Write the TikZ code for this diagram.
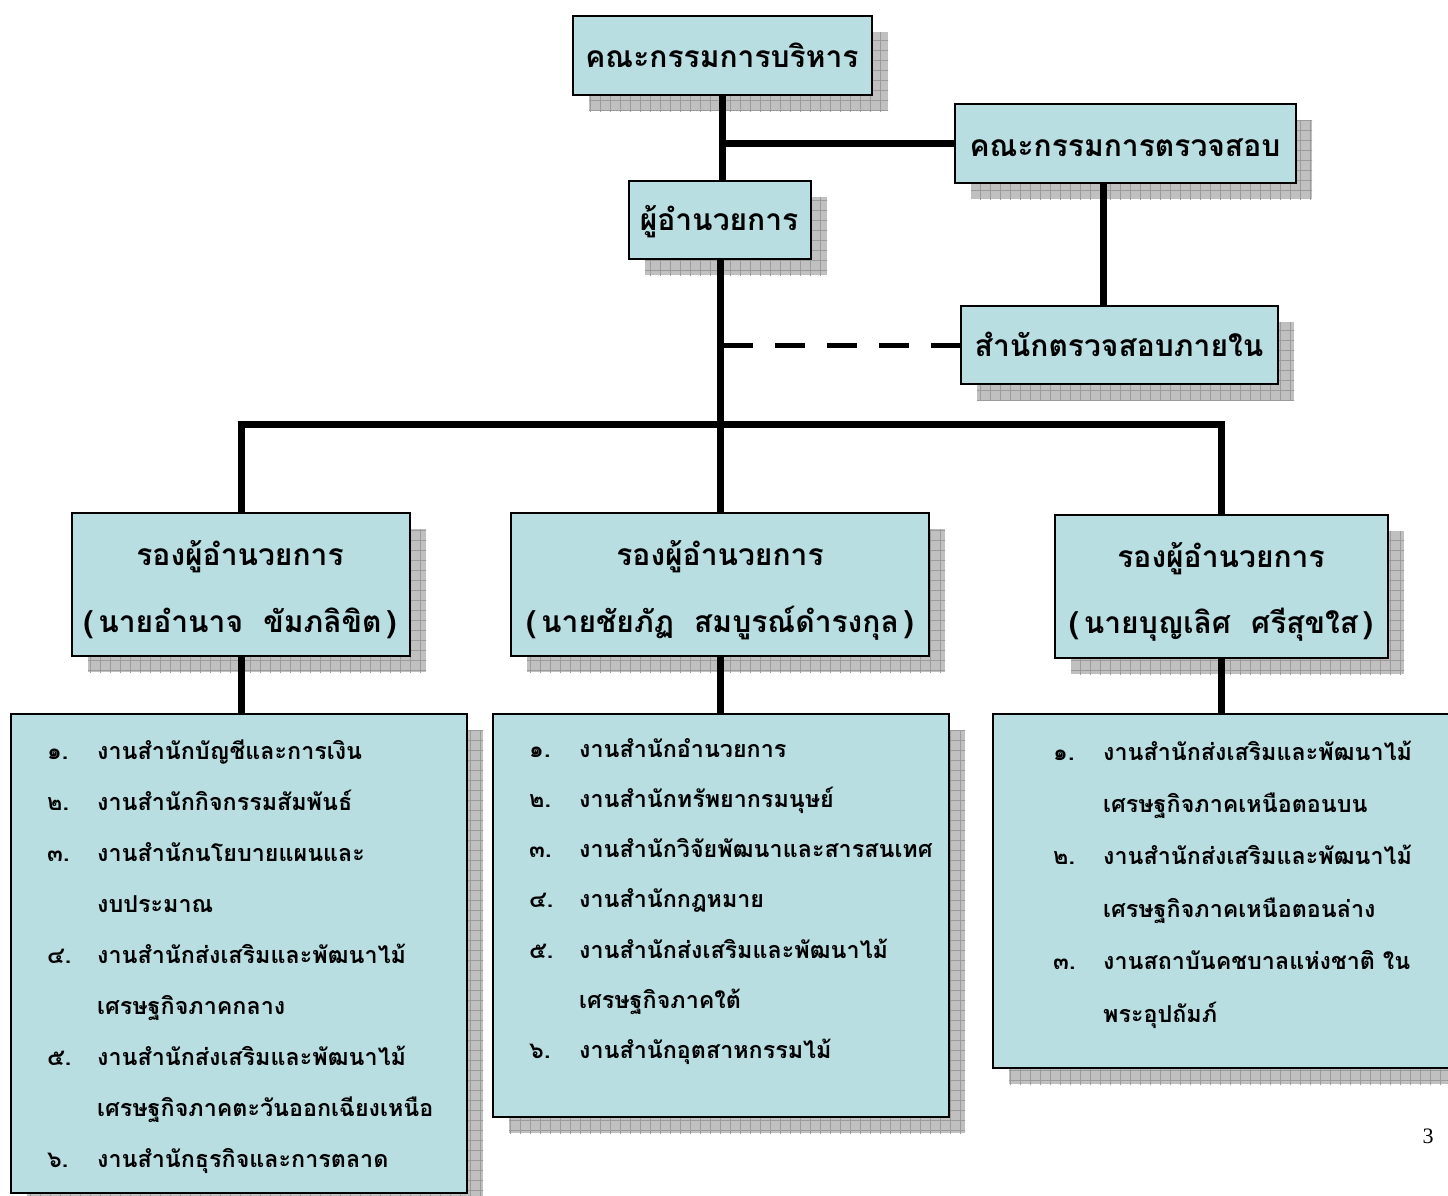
\documentclass[tikz,border=0pt]{standalone}
\usepackage{fontspec}
\setmainfont{Liberation Serif}
\newfontfamily\thaifont[Script=Thai]{Loma}
\usetikzlibrary{calc}

\pgfdeclarelayer{shadowlayer}
\pgfdeclarelayer{linelayer}
\pgfsetlayers{shadowlayer,linelayer,main}

\definecolor{boxfill}{RGB}{185,222,226}
\definecolor{shadefill}{RGB}{192,192,192}
\definecolor{shadegrid}{RGB}{155,155,155}

\tikzset{
  orgbox/.style={draw=black, line width=2pt, fill=boxfill, inner sep=0pt,
                 outer sep=0pt, anchor=north west},
  link/.style={line width=7pt, line cap=butt},
  dashlink/.style={line width=5pt, dash pattern=on 30pt off 22pt},
  heading/.style={font=\thaifont\bfseries\fontsize{30}{36}\selectfont,
                  anchor=base, inner sep=0pt},
  item/.style={font=\thaifont\bfseries\fontsize{23.3}{28}\selectfont,
               anchor=base west, inner sep=0pt},
}

% hatched drop shadow behind a box
\newcommand\orgshadow[1]{%
  \begin{pgfonlayer}{shadowlayer}
    \begin{scope}
      \clip ($(#1.north west)+(16,16)$) rectangle ($(#1.south east)+(16,16)$);
      \fill[shadefill] ($(#1.north west)+(16,16)$) rectangle ($(#1.south east)+(16,16)$);
      \draw[shadegrid, line width=0.9pt, step=10pt]
        ($(#1.north west)+(0,0)$) grid ($(#1.south east)+(30,30)$);
    \end{scope}
  \end{pgfonlayer}}
\newcommand\itemno[1]{\makebox[50pt][l]{#1}}

\begin{document}
\begin{tikzpicture}[x=1pt, y=-1pt]
\useasboundingbox (0,0) rectangle (1448,1195);

% ---- boxes ----
\node[orgbox, minimum width=299pt, minimum height=79pt] (exec) at (573,16) {};
\node[orgbox, minimum width=341pt, minimum height=79pt] (audit) at (955,104) {};
\node[orgbox, minimum width=182pt, minimum height=78pt] (dir) at (629,181) {};
\node[orgbox, minimum width=317pt, minimum height=78pt] (internal) at (961,306) {};

\node[orgbox, minimum width=338pt, minimum height=143pt] (depL) at (72,513) {};
\node[orgbox, minimum width=418pt, minimum height=143pt] (depM) at (511,513) {};
\node[orgbox, minimum width=333pt, minimum height=143pt] (depR) at (1055,515) {};

\node[orgbox, minimum width=456pt, minimum height=479pt] (deptL) at (11,714) {};
\node[orgbox, minimum width=456pt, minimum height=403pt] (deptM) at (493,714) {};
\node[orgbox, minimum width=458pt, minimum height=354pt] (deptR) at (993,714) {};

\foreach \b in {exec,audit,dir,internal,depL,depM,depR,deptL,deptM,deptR}
  {\orgshadow{\b}}

% ---- connectors ----
\begin{pgfonlayer}{linelayer}
  \coordinate (bar) at (0,424);
  \coordinate (auditfoot) at ($(audit.south west)!0.435!(audit.south east)$);
  \draw[link] (exec.south) -- (exec.south |- dir.north);
  \draw[link] (exec.south |- audit.west) -- (audit.west);
  \draw[link] (auditfoot) -- (auditfoot |- internal.north);
  \draw[link] (dir.south) -- (depM.north);
  \draw[dashlink] ([xshift=3pt]dir.south |- internal.west) -- (internal.west);
  \draw[link] ([xshift=-3.5pt]depL.north |- bar) -- ([xshift=3.5pt]depR.north |- bar);
  \draw[link] (depL.north |- bar) -- (depL.north);
  \draw[link] (depR.north |- bar) -- (depR.north);
  \draw[link] (depL.south) -- (depL.south |- deptL.north);
  \draw[link] (depM.south) -- (depM.south |- deptM.north);
  \draw[link] (depR.south) -- (depR.south |- deptR.north);
\end{pgfonlayer}

% ---- headings ----
\node[heading] (execT) at (722,67) {คณะกรรมการบริหาร};
\node[heading] (auditT) at (1125,156) {คณะกรรมการตรวจสอบ};
\node[heading] (dirT) at (719,230) {ผู้อำนวยการ};
\node[heading] (internalT) at (1119,356) {สำนักตรวจสอบภายใน};

\node[heading] (depLa) at (240,565) {รองผู้อำนวยการ};
\node[heading] (depLb) at (240,632) {(\,นายอำนาจ\ \ ขัมภลิขิต\,)};
\node[heading] (depMa) at (720,565) {รองผู้อำนวยการ};
\node[heading] (depMb) at (720,632) {(\,นายชัยภัฏ\ \ สมบูรณ์ดำรงกุล\,)};
\node[heading] (depRa) at (1221,567) {รองผู้อำนวยการ};
\node[heading] (depRb) at (1221,633) {(\,นายบุญเลิศ\ \ ศรีสุขใส\,)};

% ---- section lists ----
\foreach \t [count=\i] in {
  {\itemno{๑.}งานสำนักบัญชีและการเงิน},
  {\itemno{๒.}งานสำนักกิจกรรมสัมพันธ์},
  {\itemno{๓.}งานสำนักนโยบายแผนและ},
  {\itemno{}งบประมาณ},
  {\itemno{๔.}งานสำนักส่งเสริมและพัฒนาไม้},
  {\itemno{}เศรษฐกิจภาคกลาง},
  {\itemno{๕.}งานสำนักส่งเสริมและพัฒนาไม้},
  {\itemno{}เศรษฐกิจภาคตะวันออกเฉียงเหนือ},
  {\itemno{๖.}งานสำนักธุรกิจและการตลาด}}
  \node[item] (L\i) at (47,{759+51*(\i-1)}) {\t};

\foreach \t [count=\i] in {
  {\itemno{๑.}งานสำนักอำนวยการ},
  {\itemno{๒.}งานสำนักทรัพยากรมนุษย์},
  {\itemno{๓.}งานสำนักวิจัยพัฒนาและสารสนเทศ},
  {\itemno{๔.}งานสำนักกฎหมาย},
  {\itemno{๕.}งานสำนักส่งเสริมและพัฒนาไม้},
  {\itemno{}เศรษฐกิจภาคใต้},
  {\itemno{๖.}งานสำนักอุตสาหกรรมไม้}}
  \node[item] (M\i) at (529,{757+50.3*(\i-1)}) {\t};

\foreach \t [count=\i] in {
  {\itemno{๑.}งานสำนักส่งเสริมและพัฒนาไม้},
  {\itemno{}เศรษฐกิจภาคเหนือตอนบน},
  {\itemno{๒.}งานสำนักส่งเสริมและพัฒนาไม้},
  {\itemno{}เศรษฐกิจภาคเหนือตอนล่าง},
  {\itemno{๓.}งานสถาบันคชบาลแห่งชาติ ใน},
  {\itemno{}พระอุปถัมภ์}}
  \node[item] (R\i) at (1053,{760+52.4*(\i-1)}) {\t};

% page number
\node[anchor=base, inner sep=0pt, font=\fontsize{22}{26}\selectfont] (pagenum) at (1428,1143) {3};
\end{tikzpicture}
\end{document}
